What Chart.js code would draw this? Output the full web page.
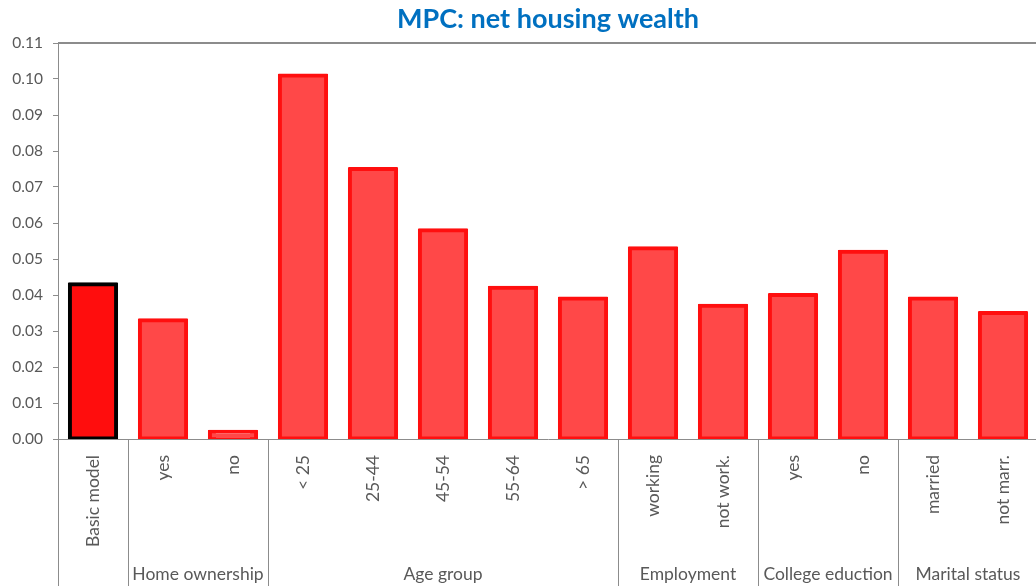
<!DOCTYPE html>
<html>
<head>
<meta charset="utf-8">
<script src="https://cdn.jsdelivr.net/npm/chart.js@4/dist/chart.umd.min.js"></script>
<style>
  html, body { margin: 0; padding: 0; overflow: hidden; background: #fff; }
  #wrap { position: absolute; left: 0; top: 0; width: 1040px; height: 586px; }
</style>
</head>
<body>
<div id="wrap"><canvas id="c"></canvas></div>
<script>
const categories = ['Basic model', 'yes', 'no', '< 25', '25-44', '45-54', '55-64', '> 65', 'working', 'not work.', 'yes', 'no', 'married', 'not marr.'];
const mpcValues = [0.043, 0.033, 0.002, 0.101, 0.075, 0.058, 0.042, 0.039, 0.053, 0.037, 0.040, 0.052, 0.039, 0.035];
const groupNames = ['Home ownership', 'Age group', 'Employment', 'College eduction', 'Marital status'];
const groupFirst = [1, 3, 8, 10, 12];
const groupLast = [2, 7, 9, 11, 13];
const yTickValues = [0, 0.01, 0.02, 0.03, 0.04, 0.05, 0.06, 0.07, 0.08, 0.09, 0.10, 0.11];
const chartTitle = 'MPC: net housing wealth';

const FONT = 'Lato, "Open Sans", sans-serif';
const GRAY = '#595959';
const LINE = '#8c8c8c';

const fills = categories.map((c, i) => i === 0 ? '#ff0d0d' : '#ff4848');
const borders = categories.map((c, i) => i === 0 ? '#000000' : '#ff0f0f');

const decor = {
  id: 'decor',
  afterDraw(chart) {
    const ctx = chart.ctx;
    const x = chart.scales.x;
    const a = chart.chartArea;
    const H = chart.height;
    const half = (x.getPixelForValue(1) - x.getPixelForValue(0)) / 2;
    ctx.save();
    ctx.strokeStyle = LINE;
    ctx.lineWidth = 2;
    ctx.beginPath();
    ctx.moveTo(a.left, a.top);
    ctx.lineTo(chart.width, a.top);
    ctx.stroke();
    ctx.lineWidth = 1;
    const bx = [a.left];
    groupFirst.forEach(i => bx.push(x.getPixelForValue(i) - half));
    bx.forEach(px => {
      const xx = Math.round(px) + 0.5;
      ctx.beginPath();
      ctx.moveTo(xx, a.bottom);
      ctx.lineTo(xx, H);
      ctx.stroke();
    });
    ctx.fillStyle = GRAY;
    ctx.font = '17.5px ' + FONT;
    ctx.textAlign = 'center';
    ctx.textBaseline = 'middle';
    groupNames.forEach((g, k) => {
      const cx = (x.getPixelForValue(groupFirst[k]) + x.getPixelForValue(groupLast[k])) / 2;
      ctx.fillText(g, cx, 574);
    });
    ctx.fillStyle = '#0070c0';
    ctx.font = 'bold 27px ' + FONT;
    ctx.fillText(chartTitle, 548, 19);
    ctx.restore();
  }
};

new Chart(document.getElementById('c'), {
  type: 'bar',
  data: {
    labels: categories,
    datasets: [{
      data: mpcValues,
      backgroundColor: fills,
      borderColor: borders,
      borderWidth: 4,
      borderSkipped: false,
      borderRadius: 1,
      inflateAmount: 2,
      barPercentage: 0.66,
      categoryPercentage: 1.0
    }]
  },
  options: {
    responsive: true,
    maintainAspectRatio: false,
    animation: false,
    layout: { padding: { top: 43, left: 0, right: 0, bottom: 0 } },
    plugins: { legend: { display: false }, title: { display: false }, tooltip: { enabled: false } },
    scales: {
      x: {
        grid: { display: false, drawTicks: false },
        border: { display: true, color: LINE, width: 1 },
        ticks: {
          color: GRAY,
          font: { family: FONT, size: 17.5 },
          minRotation: 90, maxRotation: 90,
          padding: 16,
          autoSkip: false
        },
        afterFit(scale) { scale.height = 147; }
      },
      y: {
        min: 0, max: 0.11,
        afterBuildTicks(scale) { scale.ticks = yTickValues.map(v => ({ value: v })); },
        grid: { drawOnChartArea: false, drawTicks: true, tickLength: 5, color: LINE },
        border: { display: true, color: LINE, width: 1 },
        ticks: {
          color: GRAY,
          font: { family: FONT, size: 15.5 },
          padding: 10,
          callback: v => Number(v).toFixed(2)
        },
        afterFit(scale) { scale.width = 58; }
      }
    }
  },
  plugins: [decor]
});
</script>
</body>
</html>
